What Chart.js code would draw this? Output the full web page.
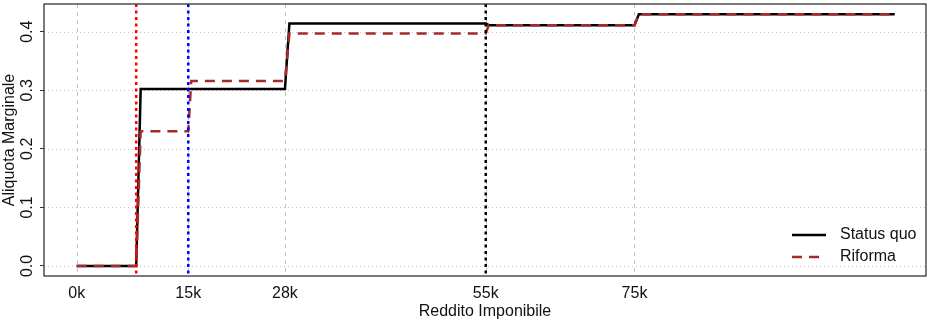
<!DOCTYPE html>
<html lang="it">
<head>
<meta charset="UTF-8">
<title>Aliquota marginale</title>
<style>
  html, body { margin: 0; padding: 0; background: #fff; }
  #wrap { width: 931px; height: 321px; }
</style>
</head>
<body>
<div id="wrap"><canvas id="chart"></canvas></div>

<script src="https://cdn.jsdelivr.net/npm/chart.js@4"></script>
<script>
// reddito imponibile in migliaia di euro
const redditoStatusQuo = [0, 8, 8.6, 28, 28.6, 55, 55.5, 75, 75.6, 110];
const aliquotaStatusQuo = [0, 0, 0.302, 0.302, 0.414, 0.414, 0.411, 0.411, 0.430, 0.430];
const redditoRiforma = [0, 8, 8.6, 15, 15.4, 28, 28.6, 55, 55.4, 75, 75.6, 110];
const aliquotaRiforma = [0, 0, 0.230, 0.230, 0.316, 0.316, 0.397, 0.397, 0.411, 0.411, 0.430, 0.430];

const xTicks = [0, 15, 28, 55, 75];
const xTickLabels = ['0k', '15k', '28k', '55k', '75k'];
const yTicks = [0, 0.1, 0.2, 0.3, 0.4];
const yTickLabels = ['0.0', '0.1', '0.2', '0.3', '0.4'];

// soglie evidenziate (linee verticali puntinate)
const soglie = [8, 15, 55];
const coloriSoglie = ['#ff0000', '#0000ff', '#000000'];

const punti = (xs, ys) => xs.map((x, i) => ({ x: x, y: ys[i] }));

Chart.defaults.font.family = '"Liberation Sans", Arial, sans-serif';
Chart.defaults.font.size = 16;
Chart.defaults.color = '#111';

function segmento(ctx, x1, y1, x2, y2) {
  ctx.beginPath();
  ctx.moveTo(x1, y1);
  ctx.lineTo(x2, y2);
  ctx.stroke();
}

const decorazioni = {
  id: 'decorazioni',
  beforeDatasetsDraw(chart) {
    const { ctx, chartArea: a, scales: { x, y } } = chart;
    ctx.save();
    ctx.lineWidth = 1;
    ctx.strokeStyle = '#c4c4c4';
    ctx.setLineDash([1, 3]);
    yTicks.forEach(v => {
      const py = Math.round(y.getPixelForValue(v)) + 0.5;
      segmento(ctx, a.left, py, a.right, py);
    });
    ctx.setLineDash([4, 4]);
    xTicks.forEach(v => {
      const px = Math.round(x.getPixelForValue(v)) + 0.5;
      segmento(ctx, px, a.top, px, a.bottom);
    });
    ctx.restore();
  },
  afterDatasetsDraw(chart) {
    const { ctx, chartArea: a, scales: { x } } = chart;
    ctx.save();
    ctx.lineWidth = 2.5;
    ctx.setLineDash([3, 3.5]);
    soglie.forEach((v, i) => {
      ctx.strokeStyle = coloriSoglie[i];
      const px = x.getPixelForValue(v);
      segmento(ctx, px, a.top, px, a.bottom);
    });

    // cornice del grafico
    ctx.setLineDash([]);
    ctx.lineWidth = 1.3;
    ctx.strokeStyle = '#333';
    ctx.strokeRect(a.left, a.top, a.right - a.left, a.bottom - a.top);

    // legenda
    ctx.font = '16px "Liberation Sans", Arial, sans-serif';
    ctx.textBaseline = 'middle';
    ctx.fillStyle = '#111';
    chart.data.datasets.forEach((ds, i) => {
      const ly = 235 + i * 22;
      ctx.strokeStyle = ds.borderColor;
      ctx.lineWidth = ds.borderWidth;
      ctx.setLineDash(ds.borderDash || []);
      segmento(ctx, a.right - 134, ly, a.right - 100, ly);
      ctx.fillText(ds.label, a.right - 86, ly);
    });
    ctx.restore();
  }
};

new Chart(document.getElementById('chart'), {
  type: 'line',
  data: {
    datasets: [{
      label: 'Status quo',
      data: punti(redditoStatusQuo, aliquotaStatusQuo),
      borderColor: '#000000',
      borderWidth: 2.5,
      pointRadius: 0,
      tension: 0,
      order: 2
    }, {
      label: 'Riforma',
      data: punti(redditoRiforma, aliquotaRiforma),
      borderColor: '#a52a2a',
      borderWidth: 2.5,
      borderDash: [10, 7],
      pointRadius: 0,
      tension: 0,
      order: 1
    }]
  },
  options: {
    responsive: true,
    maintainAspectRatio: false,
    animation: false,
    layout: { padding: { top: 4, right: 5, left: 0, bottom: 0 } },
    plugins: {
      legend: { display: false },
      tooltip: { enabled: false }
    },
    scales: {
      x: {
        type: 'linear',
        min: -4.4,
        max: 114.2,
        afterBuildTicks: s => { s.ticks = xTicks.map(v => ({ value: v })); },
        afterFit: s => { s.height = 45; s.paddingLeft = 0; s.paddingRight = 0; },
        grid: { display: false, drawTicks: false },
        border: { display: false },
        ticks: {
          padding: 8,
          maxRotation: 0,
          callback: v => xTickLabels[xTicks.indexOf(v)]
        },
        title: {
          display: true,
          text: 'Reddito Imponibile',
          padding: { top: 0, bottom: 0 }
        }
      },
      y: {
        min: -0.0171,
        max: 0.4473,
        afterBuildTicks: s => { s.ticks = yTicks.map(v => ({ value: v })); },
        afterFit: s => { s.width = 44; s.paddingTop = 0; s.paddingBottom = 0; },
        grid: {
          drawOnChartArea: false,
          drawTicks: true,
          tickLength: 4,
          tickColor: '#333',
          tickWidth: 1
        },
        border: { display: false },
        ticks: {
          padding: 1,
          minRotation: 90,
          maxRotation: 90,
          crossAlign: 'center',
          callback: v => yTickLabels[yTicks.indexOf(v)]
        },
        title: {
          display: true,
          text: 'Aliquota Marginale',
          padding: { top: 0, bottom: 0 }
        }
      }
    }
  },
  plugins: [decorazioni]
});
</script>
</body>
</html>
